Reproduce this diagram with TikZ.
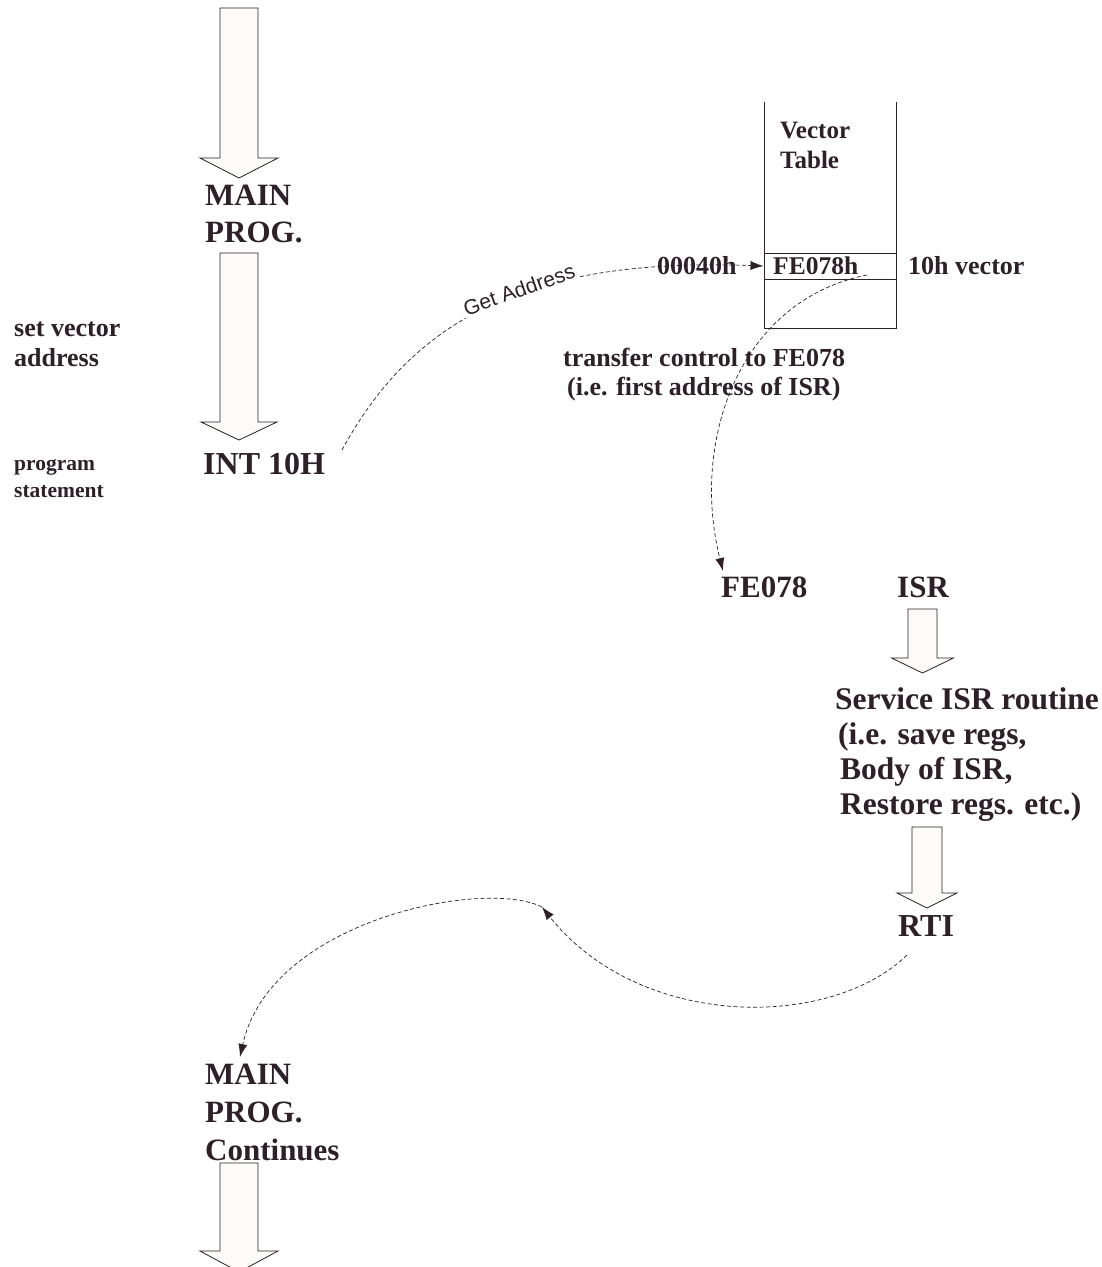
\documentclass[tikz,border=0pt]{standalone}
\usepackage{fontspec}
\setmainfont{Liberation Serif}
\newfontfamily\labelsans{Liberation Sans}
\usetikzlibrary{arrows.meta}
\definecolor{ink}{RGB}{45,32,38}
\definecolor{arrowfill}{RGB}{252,251,249}
\tikzset{
  txt/.style={inner sep=0pt, anchor=base west, text=ink, font=\bfseries\fontsize{#1}{#1}\selectfont},
  flow/.style={draw=ink, fill=arrowfill, line width=0.8pt, line join=miter},
  link/.style={draw=ink, line width=0.7pt, dash pattern=on 4pt off 2.5pt, -{Latex[length=13pt,width=9pt]}},
  tableline/.style={draw=ink, line width=0.9pt}
}
% block arrow: centre x, top y, head base y, tip y, shaft half width, head half width
\newcommand\blockarrow[6]{%
  \draw[flow] (#1-#5,#2) -- (#1+#5,#2) -- (#1+#5,#3) -- (#1+#6,#3) -- (#1,#4)
    -- (#1-#6,#3) -- (#1-#5,#3) -- cycle;}
\begin{document}
\begin{tikzpicture}[x=1pt,y=-1pt]
\useasboundingbox (0,0) rectangle (1101,1267);
\fill[white] (0,0) rectangle (1101,1267);
\begin{scope}
\clip (0,0) rectangle (1101,1267);
% block arrows
\blockarrow{239}{8}{158}{178}{19}{39}
\blockarrow{239}{253}{422}{440}{19}{38}
\blockarrow{922.5}{609}{658}{673}{14.5}{31}
\blockarrow{927}{827}{893}{908}{15}{30}
\blockarrow{239}{1163}{1251}{1272}{19}{39}
\end{scope}

% main program texts
\node[txt=31] (main1) at (205,205) {MAIN};
\node[txt=31] (prog1) at (205,242) {PROG.};
\node[txt=26] (setv) at (14,336) {set vector};
\node[txt=26] (addr) at (14,366) {address};
\node[txt=21.5] (progst) at (14,470) {program};
\node[txt=21.5] (stmt) at (14,497) {statement};
\node[txt=32] (int) at (203,474) {INT 10H};

% vector table
\draw[tableline] (764,102) -- (764,328) -- (896,328) -- (896,102);
\node[draw=ink, line width=0.9pt, minimum width=132pt, minimum height=26pt, inner sep=0pt] (cell) at (830,266) {};
\node[txt=25] (vec) at (780,138) {Vector};
\node[txt=25] (tab) at (780,168) {Table};
\node[txt=26] (addr40) at (657,274) {00040h};
\node[txt=25.5] (fe78h) at (773,274) {FE078h};
\node[txt=26] (tenh) at (908,274) {10h vector};

\node[txt=26] (trans1) at (563,366) {transfer control to FE078};
\node[txt=26] (trans2) at (567,395) {(i.e. first address of ISR)};

% ISR side
\node[txt=31] (fe78) at (721,597) {FE078};
\node[txt=31] (isr) at (897,597) {ISR};
\node[txt=31.5] (serv1) at (835,709) {Service ISR routine};
\node[txt=31.5] (serv2) at (838,744) {(i.e. save regs,};
\node[txt=31.5] (serv3) at (840,779) {Body of ISR,};
\node[txt=31.5] (serv4) at (840,814) {Restore regs. etc.)};
\node[txt=32] (rti) at (898,936) {RTI};

% main continues
\node[txt=31] (main2) at (205,1084) {MAIN};
\node[txt=31] (prog2) at (205,1122) {PROG.};
\node[txt=31] (cont) at (205,1160) {Continues};

% connector end points
\coordinate (intR) at (342,450);
\coordinate (cellFE) at (867,275);
\coordinate (feTop) at (723,571);
\coordinate (rtiS) at (907,955);
\coordinate (midR) at (542,907);
\coordinate (mainTop) at (240,1057);

% connectors
\draw[link] (intR) .. controls (410,325) and (520,257) .. (cell.west)
  node[sloped, pos=0.58, anchor=base, fill=white, inner sep=1.5pt, text=ink,
       font=\labelsans\fontsize{21}{21}\selectfont, yshift=-3pt] (getaddr) {Get Address};
\draw[link] (cellFE) .. controls (740,300) and (690,440) .. (feTop);
\draw[link] (rtiS) .. controls (830,1030) and (640,1030) .. (midR);
\draw[link] (midR) .. controls (485,878) and (270,920) .. (mainTop);
\end{tikzpicture}
\end{document}
